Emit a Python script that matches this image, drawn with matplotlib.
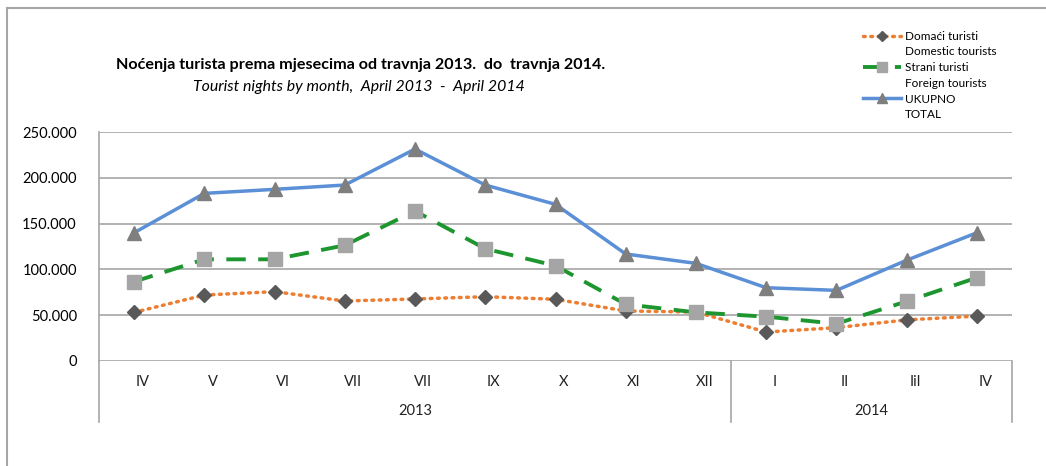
import numpy as np
import matplotlib.pyplot as plt
from matplotlib.lines import Line2D

plt.rcParams['font.family'] = ['Lato', 'DejaVu Sans']

months = ["IV", "V", "VI", "VII", "VII", "IX", "X", "XI", "XII", "I", "II", "Iil", "IV"]
years = ["2013", "2014"]
year_counts = [9, 4]

domestic = [53100, 72000, 75700, 65500, 67700, 70200, 67400, 54600, 53500, 31600, 36400, 44900, 49000]
foreign = [86600, 111000, 111000, 126300, 163700, 122600, 104000, 61900, 53100, 48400, 40700, 65100, 91000]
total = [140000, 183000, 187400, 192100, 231400, 192100, 171000, 116800, 106600, 80000, 77100, 110000, 140000]

fig = plt.figure(figsize=(10.46, 4.66), dpi=100)
W, H = 1046, 466
ax = fig.add_axes([99 / W, 1 - 361 / H, (1012 - 99) / W, (361 - 132) / H])

x = np.arange(len(months))
ax.plot(x, domestic, color='#ED7D31', lw=2.5, ls=(0, (0.5, 1.6)), dash_capstyle='round',
        marker='D', ms=7, mfc='#595959', mec='#595959', zorder=3)
ax.plot(x, foreign, color='#1E9630', lw=2.8, ls=(0, (5, 3.2)),
        marker='s', ms=10, mfc='#A5A5A5', mec='#A5A5A5', zorder=4)
ax.plot(x, total, color='#5B8FD6', lw=2.5,
        marker='^', ms=10, mfc='#7F7F7F', mec='#7F7F7F', zorder=5)

ax.set_xlim(-0.5, len(months) - 0.5)
ax.set_ylim(0, 250000)
ax.set_yticks(np.arange(0, 250001, 50000))
ax.set_yticklabels(['0' if v == 0 else '{:,}'.format(v).replace(',', '.') for v in range(0, 250001, 50000)],
                   fontsize=10.5)
ax.tick_params(axis='y', length=0, pad=16)
ax.set_xticks([])
ax.grid(axis='y', color='#A6A6A6', lw=1.2)
ax.set_axisbelow(True)
for s in ['top', 'right', 'bottom']:
    ax.spines[s].set_visible(False)
ax.spines['left'].set_color('#A6A6A6')
ax.spines['left'].set_linewidth(1.2)

# category labels (two level axis)
trans = ax.get_xaxis_transform()
for i, m in enumerate(months):
    ax.text(i + 0.12, -0.09, m, transform=trans, ha='center', va='center', fontsize=10.5, color='#222222')
start = -0.5
bounds = [start]
for name, n in zip(years, year_counts):
    ax.text(start + n / 2, -0.22, name, transform=trans, ha='center', va='center', fontsize=10.5, color='#222222')
    start += n
    bounds.append(start)
for b in bounds:
    ax.add_line(Line2D([b, b], [0, -0.266], transform=trans, color='#A6A6A6', lw=1.2, clip_on=False))

# titles
fig.text(361 / W, 1 - 65 / H, "Noćenja turista prema mjesecima od travnja 2013.  do  travnja 2014.",
         ha='center', va='center', fontsize=11.6, fontweight='bold')
fig.text(359 / W, 1 - 87 / H, "Tourist nights by month,  April 2013  -  April 2014",
         ha='center', va='center', fontsize=11.4, style='italic')

# legend: handle next to first line, second line as blank entry
blank = Line2D([], [], color='none')
handles = [
    Line2D([], [], color='#ED7D31', lw=2.5, ls=(0, (0.5, 1.6)), dash_capstyle='round',
           marker='D', ms=5, mfc='#595959', mec='#595959'), blank,
    Line2D([], [], color='#1E9630', lw=2.8, ls=(0, (5, 3.2)),
           marker='s', ms=6.5, mfc='#A5A5A5', mec='#A5A5A5'), blank,
    Line2D([], [], color='#5B8FD6', lw=2.5, marker='^', ms=6.5, mfc='#7F7F7F', mec='#7F7F7F'), blank,
]
labels = ["Domaći turisti", "Domestic tourists", "Strani turisti", "Foreign tourists", "UKUPNO", "TOTAL"]
leg = fig.legend(handles, labels, loc='upper left', bbox_to_anchor=(858 / W, 1 - 26 / H), frameon=False,
                 fontsize=8.5, handlelength=3.2, handletextpad=0.4, labelspacing=0.4, borderaxespad=0)

# outer frame (top and left)
fig.add_artist(Line2D([7 / W, 1], [1 - 8 / H, 1 - 8 / H], transform=fig.transFigure, color='#A6A6A6', lw=1.5))
fig.add_artist(Line2D([7 / W, 7 / W], [0, 1 - 8 / H], transform=fig.transFigure, color='#A6A6A6', lw=1.5))

fig.savefig('out.png', dpi=100)
